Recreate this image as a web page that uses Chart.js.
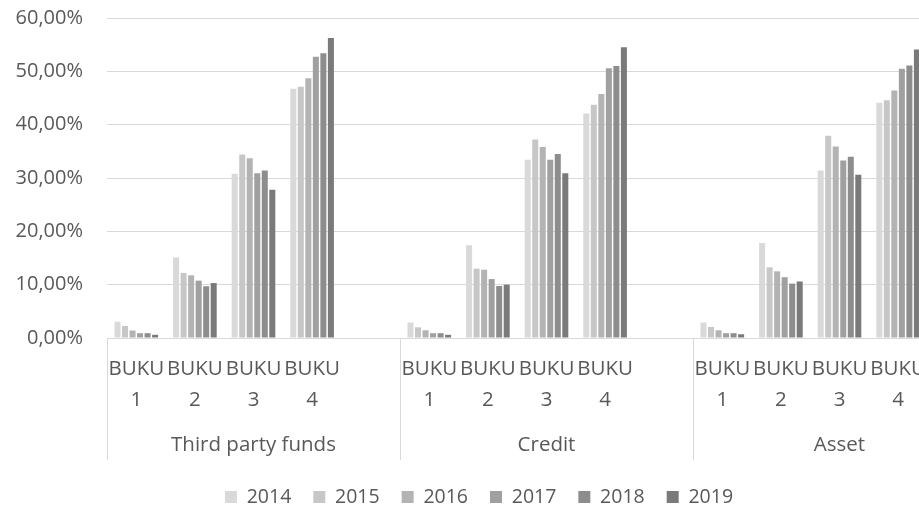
<!DOCTYPE html>
<html>
<head>
<meta charset="utf-8">
<script src="https://cdn.jsdelivr.net/npm/chart.js@4"></script>
<style>
  html, body { margin: 0; padding: 0; background: #fff; overflow: hidden; }
  #wrap { width: 990px; height: 509px; }
</style>
</head>
<body>
<div id="wrap"><canvas id="chart" width="990" height="509"></canvas></div>
<script>
// groups and categories (an empty slot closes every group, like the Excel sheet)
const groups = ["Third party funds", "Credit", "Asset"];
const bukuLabels = ["BUKU 1", "BUKU 2", "BUKU 3", "BUKU 4"];
const years = ["2014", "2015", "2016", "2017", "2018", "2019"];
const yTicks = [0, 10, 20, 30, 40, 50, 60];

// values in %: Third party funds B1..B4, Credit B1..B4, Asset B1..B4
const y2014 = [3.06, 15.1, 30.8, 46.75, 2.9, 17.4, 33.4, 42.1, 2.9, 17.8, 31.4, 44.1];
const y2015 = [2.25, 12.2, 34.4, 47.1, 2.0, 13.0, 37.2, 43.75, 2.06, 13.25, 37.9, 44.6];
const y2016 = [1.4, 11.75, 33.7, 48.7, 1.45, 12.8, 35.8, 45.75, 1.45, 12.5, 35.9, 46.4];
const y2017 = [0.9, 10.75, 30.9, 52.75, 0.9, 11.05, 33.4, 50.6, 0.9, 11.4, 33.3, 50.5];
const y2018 = [0.9, 9.7, 31.4, 53.4, 0.9, 9.75, 34.5, 51.0, 0.9, 10.2, 34.0, 51.1];
const y2019 = [0.6, 10.3, 27.8, 56.25, 0.6, 10.0, 30.9, 54.5, 0.7, 10.6, 30.6, 54.1];

const series = [y2014, y2015, y2016, y2017, y2018, y2019];
const colors = ["#d9d9d9", "#c7c7c7", "#b3b3b3", "#a0a0a0", "#8d8d8d", "#7a7a7a"];

const perGroup = bukuLabels.length + 1;

// labels: 4 BUKU + 1 empty slot per group
const labels = [];
groups.forEach(() => {
  bukuLabels.forEach((b) => labels.push(b));
  labels.push("");
});

function spread(values) {
  const out = [];
  groups.forEach((g, gi) => {
    for (let i = 0; i < bukuLabels.length; i++) {
      out.push(values[gi * bukuLabels.length + i]);
    }
    out.push(null);
  });
  return out;
}

const textColor = "#595959";
const lineColor = "#d9d9d9";
const LEGEND_DX = -14;
const LEGEND_TEXT_Y = 497;
const PLOT_BOTTOM = 338;

Chart.defaults.font.family = "'Open Sans', sans-serif";
Chart.defaults.color = textColor;

const groupAxis = {
  id: "groupAxis",
  afterLayout(chart) {
    const lg = chart.legend;
    if (!lg) return;
    const fs = lg.options.labels.font.size;
    const top = LEGEND_TEXT_Y - lg.options.labels.padding - fs / 2;
    const h = lg.bottom - lg.top;
    lg.left += LEGEND_DX;
    lg.right += LEGEND_DX;
    lg.top = top;
    lg.bottom = top + h;
  },
  afterDraw(chart) {
    const ctx = chart.ctx;
    const x = chart.scales.x;
    const top = chart.chartArea.bottom;
    const bottom = 460;

    ctx.save();
    ctx.strokeStyle = lineColor;
    ctx.lineWidth = 1;
    for (let g = 0; g <= groups.length; g++) {
      const px = Math.round(x.getPixelForValue(g * perGroup - 0.5)) + 0.5;
      ctx.beginPath();
      ctx.moveTo(px, top);
      ctx.lineTo(px, bottom);
      ctx.stroke();
    }

    ctx.fillStyle = textColor;
    ctx.font = "20.5px 'Open Sans', sans-serif";
    ctx.textAlign = "center";
    ctx.textBaseline = "middle";
    groups.forEach((g, gi) => {
      const px = x.getPixelForValue(gi * perGroup + 2);
      ctx.fillText(g, px, 445);
    });
    ctx.restore();
  },
};

new Chart(document.getElementById("chart"), {
  type: "bar",
  data: {
    labels: labels,
    datasets: years.map((yr, i) => ({
      label: yr,
      data: spread(series[i]),
      backgroundColor: colors[i],
      borderWidth: 0,
      categoryPercentage: 0.77,
      barPercentage: 0.8,
    })),
  },
  options: {
    responsive: false,
    animation: false,
    layout: { padding: { top: 18, right: 4, left: 0, bottom: 0 } },
    plugins: {
      legend: {
        position: "bottom",
        labels: {
          boxWidth: 12,
          boxHeight: 12,
          padding: 22,
          font: { size: 19.5 },
          color: textColor,
        },
      },
      tooltip: { enabled: false },
    },
    scales: {
      x: {
        grid: { display: false, drawTicks: false },
        border: { display: true, color: lineColor, width: 1 },
        ticks: {
          autoSkip: false,
          maxRotation: 0,
          padding: 16,
          font: { size: 20.5, lineHeight: 1.5 },
          color: textColor,
          callback: function (value, index) {
            const l = labels[index];
            return l ? l.split(" ") : "";
          },
        },
        afterFit(scale) {
          const lh = scale.chart.legend ? scale.chart.legend.height : 0;
          scale.height = 509 - PLOT_BOTTOM - lh;
        },
      },
      y: {
        min: 0,
        max: 60,
        afterBuildTicks(scale) {
          scale.ticks = yTicks.map((v) => ({ value: v }));
        },
        grid: { color: lineColor, lineWidth: 1, drawTicks: false },
        border: { display: false },
        ticks: {
          padding: 24,
          font: { size: 20 },
          color: textColor,
          callback: (v) => v.toFixed(2).replace(".", ",") + "%",
        },
        afterFit(scale) {
          // keep the label gap but not the extra top/bottom room it adds
          scale.width = 107;
          scale.paddingTop = 0;
          scale.paddingBottom = 0;
        },
      },
    },
  },
  plugins: [groupAxis],
});
</script>
</body>
</html>
